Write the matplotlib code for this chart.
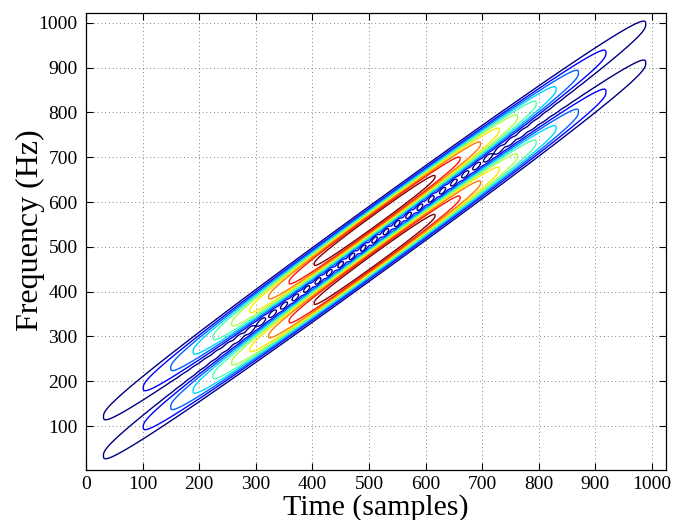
import matplotlib
matplotlib.use("Agg")
import matplotlib.pyplot as plt
import numpy as np

# ridge end points: (time, frequency)
CHIRP_T = [30, 990]
UPPER_F = [120, 998]
LOWER_F = [33, 911]

# envelope along the ridges (centre, scale, exponent) and cross-section shape
ENV_CENTER = 510
ENV_SCALE = 319
ENV_POWER = 2.15
RIDGE_WIDTH = 30
RIDGE_POWER = 3

# interference term between the two chirps
CROSS_AMP = 0.07
CROSS_WIDTH = 12
CROSS_SCALE = 220
CROSS_PERIOD = 20

N_LEVELS = 10
XTICKS = np.arange(0, 1001, 100)
YTICKS = np.arange(100, 1001, 100)

plt.rcParams["font.family"] = ["Liberation Serif", "DejaVu Serif"]

t = np.arange(0, 1025, 2.0)
f = np.arange(0, 1025, 1.0)
T, F = np.meshgrid(t, f)

slope_u = (UPPER_F[1] - UPPER_F[0]) / (CHIRP_T[1] - CHIRP_T[0])
slope_l = (LOWER_F[1] - LOWER_F[0]) / (CHIRP_T[1] - CHIRP_T[0])
fu = UPPER_F[0] + slope_u * (T - CHIRP_T[0])
fl = LOWER_F[0] + slope_l * (T - CHIRP_T[0])
fm = 0.5 * (fu + fl)


def ridge(center):
    return np.exp(-(np.abs(F - center) / RIDGE_WIDTH) ** RIDGE_POWER)


d = np.abs(T - ENV_CENTER)
env = np.exp(-(d / ENV_SCALE) ** ENV_POWER)
auto = env * (ridge(fu) + ridge(fl))
cross = (CROSS_AMP * np.exp(-(d / CROSS_SCALE) ** 2)
         * np.exp(-((F - fm) / CROSS_WIDTH) ** 2)
         * np.cos(2 * np.pi * T / CROSS_PERIOD))
Z = auto + cross

levels = np.arange(1, N_LEVELS + 1) / (N_LEVELS + 1)
colors = plt.cm.jet(np.linspace(0, 1, N_LEVELS))

fig = plt.figure(figsize=(6.81, 5.20), dpi=100)
ax = fig.add_axes([0.1263, 0.0962, 0.8517, 0.8788])
ax.contour(T, F, Z, levels=levels, colors=colors, linewidths=1.0)

ax.set_xlim(0, 1025)
ax.set_ylim(2, 1022)
ax.set_xticks(XTICKS)
ax.set_yticks(YTICKS)
ax.grid(True, linestyle=(0, (1, 3.5)), color="0.35", linewidth=0.6)
ax.tick_params(direction="in", top=True, right=True, length=5, labelsize=14, pad=4)
ax.tick_params(axis="y", pad=6)
for spine in ax.spines.values():
    spine.set_linewidth(0.9)

ax.set_xlabel("Time (samples)", fontsize=21.5)
ax.set_ylabel("Frequency (Hz)", fontsize=23)
ax.xaxis.set_label_coords(0.5, -0.053)
ax.yaxis.set_label_coords(-0.07, 0.525)

fig.savefig("out.png", dpi=100)
